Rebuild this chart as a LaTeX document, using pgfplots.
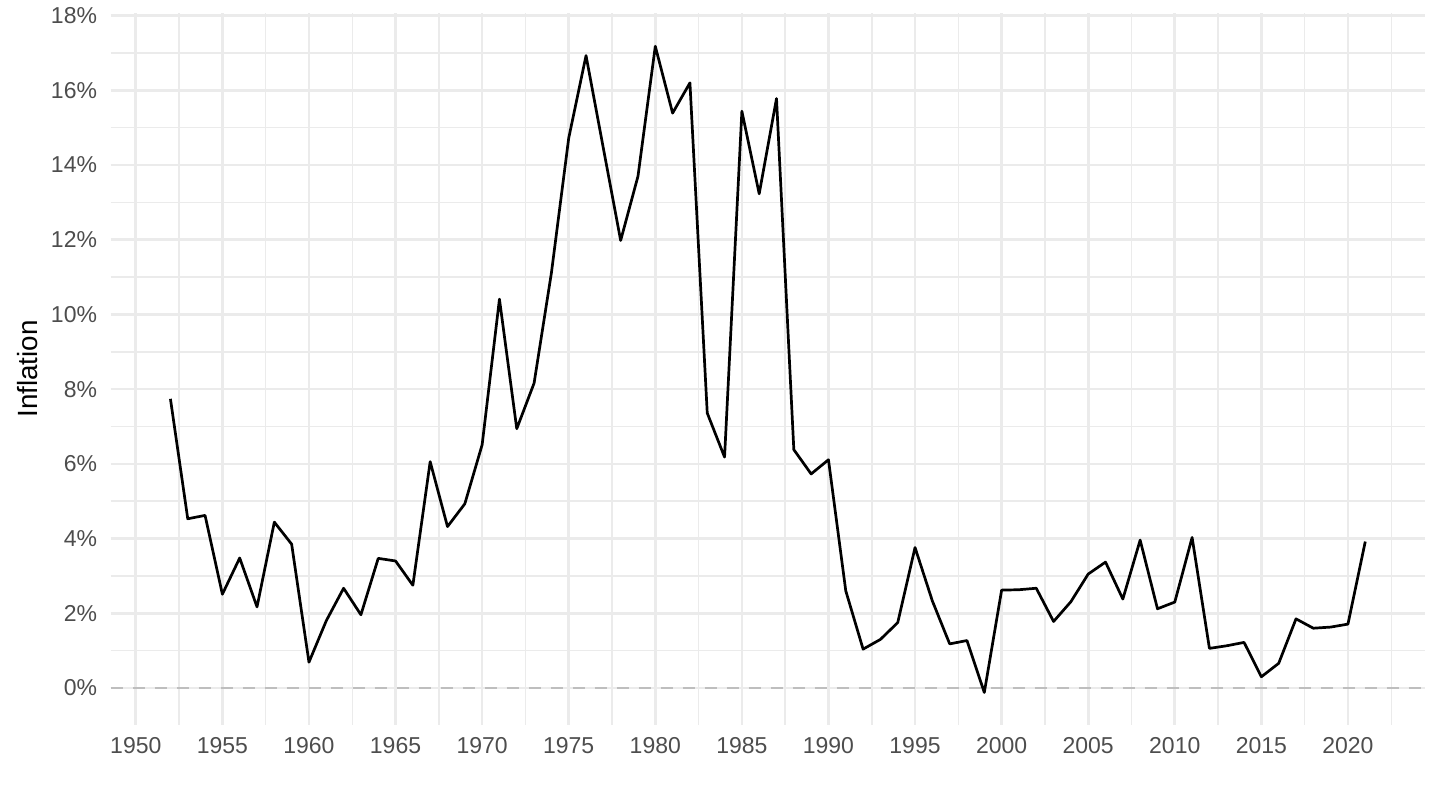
\documentclass[border=0pt]{standalone}
\usepackage{fontspec}
\setmainfont{Liberation Sans}
\usepackage{pgfplots}
\pgfplotsset{compat=1.18}

\definecolor{gridgray}{HTML}{EBEBEB}
\definecolor{ticktext}{HTML}{4D4D4D}
\definecolor{zeroline}{HTML}{BEBEBE}

\pgfplotstableread{
year infl
1952 7.74
1953 4.53
1954 4.62
1955 2.51
1956 3.48
1957 2.17
1958 4.44
1959 3.85
1960 0.69
1961 1.80
1962 2.67
1963 1.96
1964 3.47
1965 3.40
1966 2.75
1967 6.06
1968 4.32
1969 4.93
1970 6.51
1971 10.41
1972 6.94
1973 8.16
1974 11.11
1975 14.72
1976 16.93
1977 14.45
1978 11.98
1979 13.70
1980 17.18
1981 15.39
1982 16.20
1983 7.36
1984 6.18
1985 15.44
1986 13.23
1987 15.78
1988 6.38
1989 5.73
1990 6.11
1991 2.60
1992 1.04
1993 1.30
1994 1.75
1995 3.76
1996 2.33
1997 1.18
1998 1.27
1999 -0.12
2000 2.62
2001 2.63
2002 2.67
2003 1.78
2004 2.31
2005 3.05
2006 3.37
2007 2.38
2008 3.96
2009 2.12
2010 2.30
2011 4.03
2012 1.06
2013 1.13
2014 1.22
2015 0.30
2016 0.66
2017 1.85
2018 1.60
2019 1.63
2020 1.71
2021 3.92
}\inflation

\begin{document}
\begin{tikzpicture}
    \begin{axis}[
        name=main,
        scale only axis,
        width=657.2pt, height=356pt,
        xmin=1948.55, xmax=2024.45,
        ymin=-0.99, ymax=18.07,
        axis line style={draw=none},
        tick style={draw=none},
        xtick distance=5, ytick distance=2,
        minor tick num=1,
        grid=both,
        major grid style={gridgray, line width=1.3pt},
        minor grid style={gridgray, line width=0.75pt},
        /pgf/number format/assume math mode=true,
        /pgf/number format/1000 sep={},
        ticklabel style={font=\fontsize{11.5}{13}\selectfont, text=ticktext},
        xticklabel style={yshift=-2.6pt},
        yticklabel style={xshift=-3.3pt},
        yticklabel={\pgfmathprintnumber{\tick}\%},
        ylabel={Inflation},
        ylabel style={at={(axis description cs:0,0.5)}, anchor=center,
            yshift=41.7pt, font=\fontsize{13.9}{16}\selectfont},
        clip=false,
    ]
        % horizontal reference at zero
        \addplot [zeroline, line width=1.2pt, dash pattern=on 6pt off 5pt]
            coordinates {(1948.55,0) (2024.45,0)};
        \addplot [black, line width=1.35pt, line join=round] table [x=year, y=infl] {\inflation};
    \end{axis}
    \pgfresetboundingbox
    \path (main.south west) ++(-55.35pt,-42.5pt) coordinate (bl);
    \path (main.north east) ++(7.5pt,6.5pt) coordinate (tr);
    \path[use as bounding box] (bl) rectangle (tr);
\end{tikzpicture}
\end{document}
